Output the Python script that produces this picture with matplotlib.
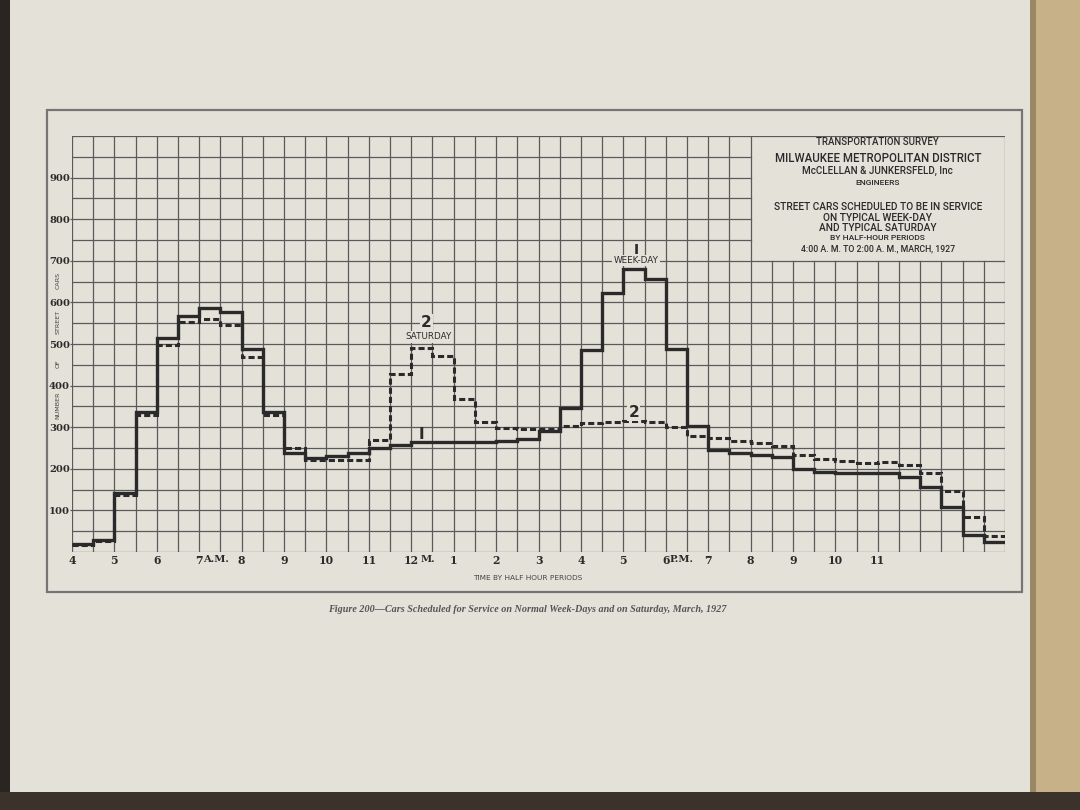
import numpy as np
import matplotlib.pyplot as plt
from matplotlib.patches import Rectangle
from matplotlib.transforms import blended_transform_factory

# street cars in service, one value per half hour, 4:00 A.M. to 2:00 A.M.
weekday = [20, 28, 142, 337, 514, 568, 586, 576, 488, 337,
           239, 225, 230, 239, 251, 258,
           264, 264, 264, 264, 266, 272, 290, 345, 486, 622, 680, 657, 489, 302,
           245, 239, 234, 228, 200, 192, 190, 190, 190, 180, 157, 107, 40, 23]
saturday = [18, 26, 138, 329, 498, 552, 560, 546, 468, 329,
            249, 221, 221, 221, 269, 428,
            490, 470, 368, 312, 298, 296, 296, 304, 310, 312, 316, 312, 300, 280,
            273, 266, 262, 255, 234, 224, 218, 215, 217, 210, 189, 146, 85, 39]

hour_labels = ["4", "5", "6", "7", "8", "9", "10", "11", "12", "1", "2", "3",
               "4", "5", "6", "7", "8", "9", "10", "11"]
# suffixes by position in hour_labels
hour_suffix = {3: "A.M.", 8: "M.", 14: "P.M."}
y_ticks = [100, 200, 300, 400, 500, 600, 700, 800, 900]
y_words = [("NUMBER", 352), ("OF", 452), ("STREET", 553), ("CARS", 652)]

title_lines = [
    ("TRANSPORTATION SURVEY", 985, 6.9),
    ("MILWAUKEE METROPOLITAN DISTRICT", 947, 8.3),
    ("McCLELLAN & JUNKERSFELD, Inc", 917, 7.1),
    ("ENGINEERS", 887, 6.0),
    ("STREET CARS SCHEDULED TO BE IN SERVICE", 829, 7.3),
    ("ON TYPICAL WEEK-DAY", 804, 7.3),
    ("AND TYPICAL SATURDAY", 779, 7.3),
    ("BY HALF-HOUR PERIODS", 754, 6.1),
    ("4:00 A. M. TO 2:00 A. M., MARCH, 1927", 728, 6.3),
]

paper = "#e4e1d9"
ink = "#2a2a2a"
grid_c = "#5a5a5a"

fig = plt.figure(figsize=(10.8, 8.1), dpi=100)
fig.patch.set_facecolor(paper)

# photo edges: dark table at left/bottom, book edge at right
fig.add_artist(Rectangle((0, 0), 10 / 1080, 1, transform=fig.transFigure,
                         fc="#2a2520", ec="none"))
fig.add_artist(Rectangle((1030 / 1080, 0), 50 / 1080, 1, transform=fig.transFigure,
                         fc="#c6b189", ec="none"))
fig.add_artist(Rectangle((1030 / 1080, 0), 6 / 1080, 1, transform=fig.transFigure,
                         fc="#9a8766", ec="none"))
fig.add_artist(Rectangle((0, 0), 1, 18 / 810, transform=fig.transFigure,
                         fc="#3a322b", ec="none"))

# outer frame
fig.add_artist(Rectangle((47 / 1080, 1 - 592 / 810), 975 / 1080, 482 / 810,
                         transform=fig.transFigure, fill=False, ec="#757575", lw=1.6))

ax = fig.add_axes([72 / 1080, 1 - 552 / 810, 933 / 1080, 416 / 810])
ax.set_facecolor("none")
n = len(weekday)
ax.set_xlim(0, n)
ax.set_ylim(0, 1000)
for s in ax.spines.values():
    s.set_visible(False)

# grid, left open where the title block sits (8 P.M. on, above 700)
for i in range(n + 1):
    top = 1000 if (i <= 32 or i == n) else 700
    ax.plot([i, i], [0, top], color=grid_c, lw=0.9, zorder=1)
for v in range(0, 1001, 50):
    right = n if (v <= 700 or v == 1000) else 32
    ax.plot([0, right], [v, v], color=grid_c, lw=0.9, zorder=1)

edges = np.arange(n + 1)
ax.stairs(weekday, edges, baseline=None, color=ink, lw=2.4, zorder=3)
ax.stairs(saturday, edges, baseline=None, color=ink, lw=2.2,
          linestyle=(0, (2, 1)), zorder=4)

ax.set_xticks([])
ax.set_yticks(y_ticks)
ax.set_yticklabels([str(v) for v in y_ticks], fontfamily="DejaVu Serif",
                   fontweight="bold", fontsize=7.2, color=ink)
ax.tick_params(axis="y", length=1.5, width=0.9, pad=0, color=grid_c)

yt = blended_transform_factory(ax.transAxes, ax.transData)
for word, yv in y_words:
    ax.text(-0.015, yv, word, transform=yt, rotation=90, ha="center", va="center",
            fontsize=4.6, family="DejaVu Sans", color="#444444")

for i, lab in enumerate(hour_labels):
    x = 2 * i
    ax.annotate(lab, xy=(x, 0), xytext=(0, -2), textcoords="offset points",
                ha="center", va="top", fontsize=7.8, family="DejaVu Serif",
                fontweight="bold", color=ink)
    if i in hour_suffix:
        gap = 1.2 if len(lab) > 1 else 0
        ax.annotate(hour_suffix[i], xy=(x, 0), xytext=(2.75 * len(lab) + gap, -2),
                    textcoords="offset points", ha="left", va="top", fontsize=7.2,
                    family="DejaVu Serif", fontweight="bold", color=ink)

xt = blended_transform_factory(ax.transData, ax.transAxes)
ax.text(21.5, -0.063, "TIME BY HALF HOUR PERIODS", transform=xt, ha="center",
        va="center", fontsize=5.3, family="DejaVu Sans", color="#444444")

# title block
for line, yv, size in title_lines:
    ax.text(38, yv, line, ha="center", va="center", fontsize=size,
            family="Roboto", fontweight="medium", color=ink, zorder=5)

# curve labels
bg = dict(fc=paper, ec="none", pad=0.8)
ax.text(26.6, 727, "I", ha="center", va="center", fontsize=10, fontweight="bold",
        family="DejaVu Sans", color=ink, zorder=5)
ax.text(26.6, 700, "WEEK-DAY", ha="center", va="center", fontsize=6.3,
        family="DejaVu Sans", color=ink, bbox=bg, zorder=5)
ax.text(16.7, 552, "2", ha="center", va="center", fontsize=11, fontweight="bold",
        family="DejaVu Sans", color=ink, bbox=bg, zorder=5)
ax.text(16.8, 517, "SATURDAY", ha="center", va="center", fontsize=6.3,
        family="DejaVu Sans", color=ink, bbox=bg, zorder=5)
ax.text(26.5, 336, "2", ha="center", va="center", fontsize=11, fontweight="bold",
        family="DejaVu Sans", color=ink, bbox=bg, zorder=5)
ax.text(16.5, 264, "I", ha="center", va="bottom", fontsize=11, fontweight="bold",
        family="DejaVu Sans", color=ink, zorder=5)

fig.text(0.488, 1 - 609 / 810,
         "Figure 200\u2014Cars Scheduled for Service on Normal Week-Days and on Saturday, March, 1927",
         ha="center", va="center", fontsize=7.3, family="Liberation Serif",
         style="italic", fontweight="bold", color="#555555")

fig.savefig("out.png", dpi=100, facecolor=fig.get_facecolor())
